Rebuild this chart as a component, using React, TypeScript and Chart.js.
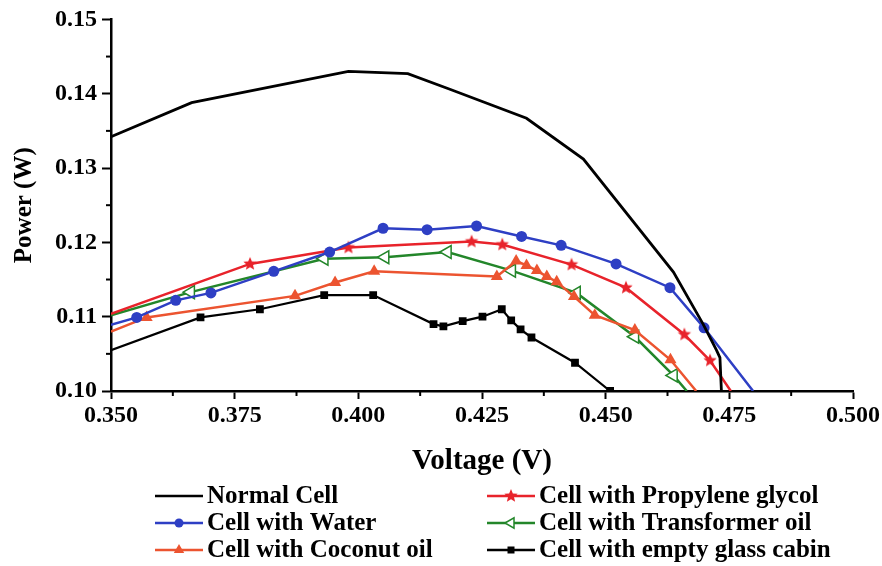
import React, { useEffect, useRef } from 'react';
import { Chart, registerables } from 'chart.js';

Chart.register(...registerables);

// Axis tick labels
const xTicks = [0.35, 0.375, 0.4, 0.425, 0.45, 0.475, 0.5];
const yTicks = [0.1, 0.11, 0.12, 0.13, 0.14, 0.15];

// Series: Normal Cell
const normalV = [0.350, 0.3663, 0.398, 0.410, 0.4185, 0.434, 0.4455, 0.4637, 0.4697, 0.4724, 0.4731, 0.4734];
const normalP = [0.1342, 0.1388, 0.1430, 0.1427, 0.1406, 0.1367, 0.1312, 0.1160, 0.1090, 0.1055, 0.1045, 0.1000];

// Series: Cell with Water
const waterV = [0.350, 0.3552, 0.3631, 0.3702, 0.3829, 0.3942, 0.4050, 0.4139, 0.4239, 0.4330, 0.4410, 0.4521, 0.4630, 0.4699, 0.4798];
const waterP = [0.1089, 0.1099, 0.1122, 0.1132, 0.1161, 0.1187, 0.1219, 0.1217, 0.1222, 0.1208, 0.1196, 0.1171, 0.1139, 0.1085, 0.1000];

// Series: Cell with Coconut oil
const coconutV = [0.350, 0.3572, 0.3872, 0.3953, 0.4032, 0.4280, 0.4319, 0.4340, 0.4361, 0.4381, 0.4401, 0.4436, 0.4478, 0.4559, 0.4631, 0.4683];
const coconutP = [0.1080, 0.1099, 0.1128, 0.1146, 0.1161, 0.1154, 0.1175, 0.1169, 0.1162, 0.1154, 0.1147, 0.1127, 0.1102, 0.1082, 0.1042, 0.1000];

// Series: Cell with Propylene glycol
const propyleneV = [0.350, 0.3781, 0.3980, 0.4229, 0.4291, 0.4431, 0.4541, 0.4659, 0.4711, 0.4753];
const propyleneP = [0.1104, 0.1171, 0.1193, 0.1201, 0.1197, 0.1170, 0.1139, 0.1076, 0.1041, 0.1000];

// Series: Cell with Transformer oil
const transformerV = [0.350, 0.3661, 0.3931, 0.4054, 0.4180, 0.4310, 0.4441, 0.4559, 0.4637, 0.4664];
const transformerP = [0.1102, 0.1133, 0.1178, 0.1180, 0.1187, 0.1162, 0.1132, 0.1073, 0.1021, 0.1000];

// Series: Cell with empty glass cabin
const emptyV = [0.350, 0.3681, 0.3801, 0.3931, 0.4030, 0.4152, 0.4172, 0.4211, 0.4251, 0.4290, 0.4309, 0.4328, 0.4350, 0.4438, 0.4509];
const emptyP = [0.1055, 0.1099, 0.1110, 0.1129, 0.1129, 0.1090, 0.1087, 0.1094, 0.1100, 0.1110, 0.1095, 0.1083, 0.1072, 0.1038, 0.1000];

const FONT = '"Liberation Serif", "Times New Roman", serif';
const BLACK = '#000000';
const BLUE = '#2e3fc4';
const CORAL = '#ec5430';
const RED = '#e8232b';
const GREEN = '#23862a';

const pts = (xs: number[], ys: number[]) => xs.map((x, i) => ({ x, y: ys[i] }));

function makeStar(color: string, r: number) {
  const c = document.createElement('canvas');
  const s = Math.ceil(r * 2 + 2);
  c.width = s;
  c.height = s;
  const g = c.getContext('2d')!;
  g.beginPath();
  for (let i = 0; i < 10; i++) {
    const rad = i % 2 === 0 ? r : r * 0.45;
    const a = -Math.PI / 2 + (i * Math.PI) / 5;
    g.lineTo(s / 2 + rad * Math.cos(a), s / 2 + rad * Math.sin(a));
  }
  g.closePath();
  g.fillStyle = color;
  g.fill();
  return c;
}

export default function App() {
  const ref = useRef<HTMLCanvasElement>(null);

  useEffect(() => {
    if (!ref.current) return;
    const star = makeStar(RED, 7);

    const hideEnds = (hideFirst: boolean, hideLast: boolean, r: number) => (ctx: any) => {
      const n = ctx.dataset.data.length;
      if (hideFirst && ctx.dataIndex === 0) return 0;
      if (hideLast && ctx.dataIndex === n - 1) return 0;
      return r;
    };

    const legendItems = [
      { label: 'Normal Cell', color: BLACK, marker: 'none', col: 0, row: 0 },
      { label: 'Cell with Water', color: BLUE, marker: 'circle', col: 0, row: 1 },
      { label: 'Cell with Coconut oil', color: CORAL, marker: 'triangle', col: 0, row: 2 },
      { label: 'Cell with Propylene glycol', color: RED, marker: 'star', col: 1, row: 0 },
      { label: 'Cell with Transformer oil', color: GREEN, marker: 'leftTri', col: 1, row: 1 },
      { label: 'Cell with empty glass cabin', color: BLACK, marker: 'square', col: 1, row: 2 },
    ];

    const drawMarker = (ctx: CanvasRenderingContext2D, type: string, color: string, x: number, y: number) => {
      ctx.save();
      ctx.fillStyle = color;
      ctx.strokeStyle = color;
      ctx.lineWidth = 1.5;
      if (type === 'circle') {
        ctx.beginPath();
        ctx.arc(x, y, 4.5, 0, Math.PI * 2);
        ctx.fill();
      } else if (type === 'triangle') {
        const r = 6;
        ctx.beginPath();
        ctx.moveTo(x, y - r);
        ctx.lineTo(x + r * 0.866, y + r * 0.5);
        ctx.lineTo(x - r * 0.866, y + r * 0.5);
        ctx.closePath();
        ctx.fill();
      } else if (type === 'leftTri') {
        const r = 6;
        ctx.beginPath();
        ctx.moveTo(x - r, y);
        ctx.lineTo(x + r * 0.5, y - r * 0.866);
        ctx.lineTo(x + r * 0.5, y + r * 0.866);
        ctx.closePath();
        ctx.fillStyle = '#ffffff';
        ctx.fill();
        ctx.stroke();
      } else if (type === 'square') {
        ctx.fillRect(x - 3.5, y - 3.5, 7, 7);
      } else if (type === 'star') {
        ctx.drawImage(star, x - star.width / 2, y - star.height / 2);
      }
      ctx.restore();
    };

    const customPlugin = {
      id: 'customDecor',
      afterDraw(chart: any) {
        const { ctx, chartArea, scales } = chart;
        const xs = scales.x;
        const ys = scales.y;
        ctx.save();
        ctx.strokeStyle = BLACK;
        ctx.lineWidth = 2;
        // minor ticks
        for (let i = 0; i < xTicks.length - 1; i++) {
          const v = (xTicks[i] + xTicks[i + 1]) / 2;
          const px = xs.getPixelForValue(v);
          ctx.beginPath();
          ctx.moveTo(px, chartArea.bottom);
          ctx.lineTo(px, chartArea.bottom + 5);
          ctx.stroke();
        }
        for (let i = 0; i < yTicks.length - 1; i++) {
          const v = (yTicks[i] + yTicks[i + 1]) / 2;
          const py = ys.getPixelForValue(v);
          ctx.beginPath();
          ctx.moveTo(chartArea.left, py);
          ctx.lineTo(chartArea.left - 5, py);
          ctx.stroke();
        }
        // legend
        const colLine = [155, 487];
        const rowY = [496, 523, 550];
        ctx.font = `bold 25px ${FONT}`;
        ctx.textBaseline = 'middle';
        ctx.textAlign = 'left';
        legendItems.forEach((it) => {
          const x0 = colLine[it.col];
          const y = rowY[it.row];
          ctx.strokeStyle = it.color;
          ctx.lineWidth = 2.5;
          ctx.beginPath();
          ctx.moveTo(x0, y);
          ctx.lineTo(x0 + 48, y);
          ctx.stroke();
          drawMarker(ctx, it.marker, it.color, x0 + 24, y);
          ctx.fillStyle = BLACK;
          ctx.fillText(it.label, x0 + 52, y + 1);
        });
        ctx.restore();
      },
    };

    const chart = new Chart(ref.current, {
      type: 'line',
      data: {
        datasets: [
          {
            label: 'Normal Cell',
            data: pts(normalV, normalP),
            borderColor: BLACK,
            borderWidth: 2.8,
            pointRadius: 0,
          },
          {
            label: 'Cell with Water',
            data: pts(waterV, waterP),
            borderColor: BLUE,
            backgroundColor: BLUE,
            borderWidth: 2.5,
            pointStyle: 'circle',
            pointRadius: hideEnds(true, true, 5.5),
            pointBorderWidth: 0,
          },
          {
            label: 'Cell with Coconut oil',
            data: pts(coconutV, coconutP),
            borderColor: CORAL,
            backgroundColor: CORAL,
            borderWidth: 2.5,
            pointStyle: 'triangle',
            pointRadius: hideEnds(true, true, 7),
            pointBorderWidth: 0,
          },
          {
            label: 'Cell with Propylene glycol',
            data: pts(propyleneV, propyleneP),
            borderColor: RED,
            backgroundColor: RED,
            borderWidth: 2.5,
            pointStyle: star as any,
            pointRadius: hideEnds(true, true, 7),
          },
          {
            label: 'Cell with Transformer oil',
            data: pts(transformerV, transformerP),
            borderColor: GREEN,
            backgroundColor: '#ffffff',
            borderWidth: 2.5,
            pointStyle: 'triangle',
            pointRotation: -90,
            pointRadius: hideEnds(true, true, 7.5),
            pointBorderWidth: 1.5,
          },
          {
            label: 'Cell with empty glass cabin',
            data: pts(emptyV, emptyP),
            borderColor: BLACK,
            backgroundColor: BLACK,
            borderWidth: 2.2,
            pointStyle: 'rect',
            pointRadius: hideEnds(true, false, 5.5),
            pointBorderWidth: 0,
          },
        ],
      },
      options: {
        animation: false,
        responsive: true,
        maintainAspectRatio: false,
        layout: { padding: { left: 0, right: 29, top: 18, bottom: 90 } },
        plugins: {
          legend: { display: false },
          tooltip: { enabled: false },
        },
        elements: { line: { tension: 0 } },
        scales: {
          x: {
            type: 'linear',
            min: 0.35,
            max: 0.5,
            afterBuildTicks: (s: any) => {
              s.ticks = xTicks.map((value) => ({ value }));
            },
            afterFit: (s: any) => {
              s.height = 85;
            },
            ticks: {
              callback: (v: any) => Number(v).toFixed(3),
              font: { family: FONT, size: 24, weight: 'bold' },
              color: BLACK,
              padding: 2,
              maxRotation: 0,
              autoSkip: false,
            },
            grid: { drawOnChartArea: false, tickLength: 8, tickWidth: 2, tickColor: BLACK },
            border: { color: BLACK, width: 2.5 },
            title: {
              display: true,
              text: 'Voltage (V)',
              color: BLACK,
              font: { family: FONT, size: 29, weight: 'bold', lineHeight: 1 },
              padding: { top: 0, bottom: 0 },
            },
          },
          y: {
            type: 'linear',
            min: 0.1,
            max: 0.15,
            afterBuildTicks: (s: any) => {
              s.ticks = yTicks.map((value) => ({ value }));
            },
            afterFit: (s: any) => {
              s.width = 111;
            },
            ticks: {
              callback: (v: any) => Number(v).toFixed(2),
              font: { family: FONT, size: 24, weight: 'bold' },
              color: BLACK,
              padding: 5,
              autoSkip: false,
            },
            grid: { drawOnChartArea: false, tickLength: 9, tickWidth: 2, tickColor: BLACK },
            border: { color: BLACK, width: 2.5 },
            title: {
              display: true,
              text: 'Power (W)',
              color: BLACK,
              font: { family: FONT, size: 25, weight: 'bold', lineHeight: 1 },
              padding: { top: 12, bottom: 0 },
            },
          },
        },
      },
      plugins: [customPlugin],
    } as any);

    return () => chart.destroy();
  }, []);

  return (
    <div style={{ position: 'absolute', left: 0, top: 0, width: 882, height: 566, background: '#fff' }}>
      <canvas ref={ref} />
    </div>
  );
}
